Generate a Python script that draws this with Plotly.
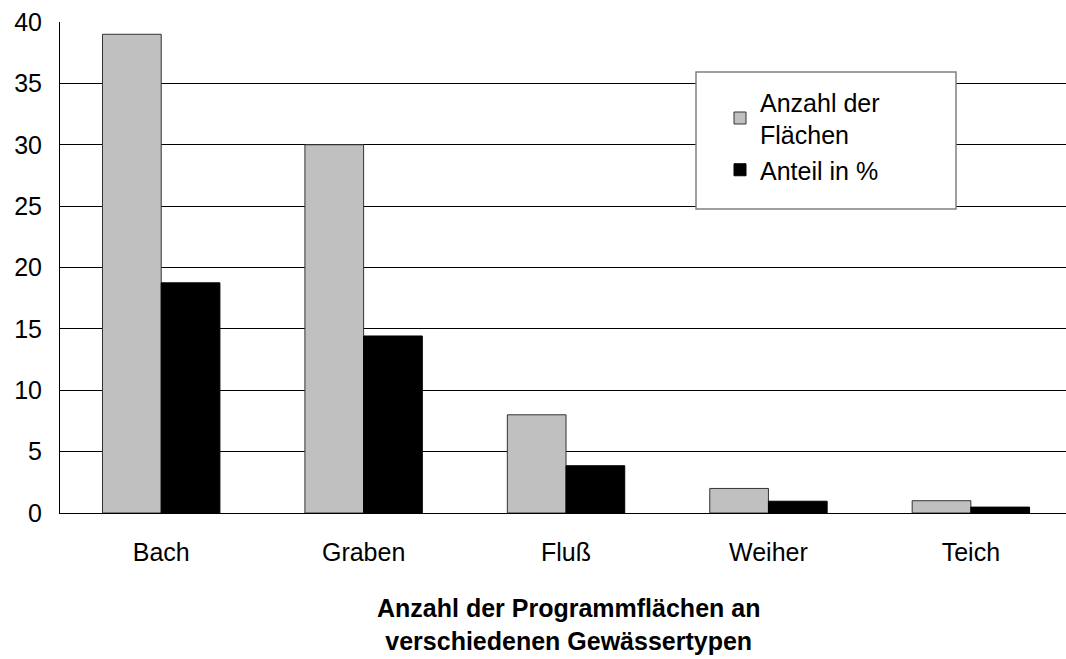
import plotly.graph_objects as go

categories = ["Bach", "Graben", "Fluß", "Weiher", "Teich"]
anzahl = [39, 30, 8, 2, 1]
anteil = [18.75, 14.42, 3.85, 0.96, 0.48]
y_ticks = [0, 5, 10, 15, 20, 25, 30, 35, 40]

FONT = "Liberation Sans, Arial, sans-serif"
FS = 25

fig = go.Figure()
fig.add_trace(go.Bar(
    x=categories, y=anzahl, name="Anzahl der<br>Flächen",
    marker=dict(color="#c0c0c0", line=dict(color="#333333", width=1)),
))
fig.add_trace(go.Bar(
    x=categories, y=anteil, name="Anteil in %",
    marker=dict(color="#000000", line=dict(color="#000000", width=1)),
))

fig.update_layout(
    width=1066, height=659,
    margin=dict(l=60, r=0, t=22, b=146),
    paper_bgcolor="white", plot_bgcolor="white",
    font=dict(family=FONT, size=FS, color="black"),
    barmode="group", bargap=0.42, bargroupgap=0,
    showlegend=True,
    legend=dict(
        x=(720 - 60) / 1006, y=(513 - 79) / 491, xanchor="left", yanchor="top",
        bgcolor="rgba(0,0,0,0)", borderwidth=0,
        font=dict(family=FONT, size=FS),
        tracegroupgap=2,
    ),
    shapes=[dict(
        type="rect", xref="paper", yref="paper",
        x0=(696 - 60) / 1006, x1=(956 - 60) / 1006,
        y0=(513 - 209) / 491, y1=(513 - 72) / 491,
        fillcolor="white", line=dict(color="#808080", width=1.5), layer="above",
    )],
    annotations=[dict(
        text="<b>Anzahl der Programmflächen an<br>verschiedenen Gewässertypen</b>",
        xref="paper", yref="paper", x=(568 - 60) / 1006, y=-(592 - 513) / 491,
        xanchor="center", yanchor="top",
        showarrow=False, font=dict(family=FONT, size=FS), align="center",
    )],
)
fig.update_xaxes(
    range=[-0.5, 4.47], showline=True, linecolor="black", linewidth=1,
    ticks="", showgrid=False, ticklabelstandoff=17,
    tickfont=dict(family=FONT, size=FS),
)
fig.update_yaxes(
    range=[0, 40], tickvals=y_ticks, showline=True, linecolor="black", linewidth=1,
    showgrid=True, gridcolor="black", gridwidth=1, ticks="", zeroline=False,
    ticklabelstandoff=12, tickfont=dict(family=FONT, size=FS),
)

fig.write_html("out.html", config={"displayModeBar": False},
               post_script="document.body.style.margin='0';")
